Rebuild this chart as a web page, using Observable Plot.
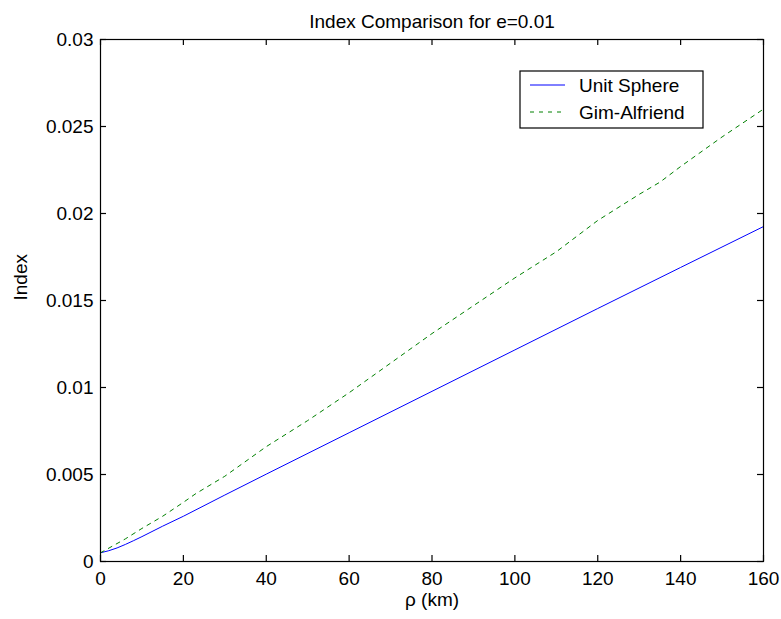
<!DOCTYPE html>
<html>
<head>
<meta charset="utf-8">
<script src="https://cdn.jsdelivr.net/npm/d3@7"></script>
<script src="https://cdn.jsdelivr.net/npm/@observablehq/plot@0.6"></script>
<style>
  html, body { margin: 0; padding: 0; background: #fff; }
  svg { font-family: "Liberation Sans", Arial, sans-serif; }
</style>
</head>
<body>
<div id="chart"></div>
<script>
const title = "Index Comparison for e=0.01";
const xLabel = "ρ (km)";
const yLabel = "Index";
const seriesNames = ["Unit Sphere", "Gim-Alfriend"];
const seriesColors = ["#0000ff", "#008000"];

const xTicks = [0, 20, 40, 60, 80, 100, 120, 140, 160];
const yTicks = [0, 0.005, 0.01, 0.015, 0.02, 0.025, 0.03];
const yTickLabels = ["0", "0.005", "0.01", "0.015", "0.02", "0.025", "0.03"];

const unitSphereX = [0, 2, 4, 6, 8, 10, 15, 20, 30, 40, 60, 80, 100, 120, 140, 160];
const unitSphereY = [0.0005, 0.00062, 0.00078, 0.00098, 0.0012, 0.00143, 0.00203, 0.0026, 0.00382, 0.00502, 0.0074, 0.00978, 0.01216, 0.01454, 0.0169, 0.01925];

const gimX = [0, 3, 6, 10, 15, 20, 23, 30, 40, 50, 60, 70, 80, 90, 100, 110, 115, 120, 130, 135, 140, 150, 160];
const gimY = [0.0005, 0.0009, 0.0013, 0.0019, 0.0026, 0.0034, 0.0039, 0.0049, 0.0066, 0.0081, 0.0097, 0.0114, 0.0131, 0.0147, 0.0163, 0.0178, 0.0187, 0.0196, 0.0211, 0.0218, 0.0227, 0.0244, 0.026];

const unitData = unitSphereX.map((x, i) => ({x, y: unitSphereY[i]}));
const gimData = gimX.map((x, i) => ({x, y: gimY[i]}));
const legendData = seriesNames.map((name, i) => ({name, i}));

const W = 781, H = 619, ML = 100, MR = 18, MT = 39, MB = 58;
const plotW = W - ML - MR, plotH = H - MT - MB;
const TICK = 6;
const FS = 19;

const chart = Plot.plot({
  width: W,
  height: H,
  marginLeft: ML,
  marginRight: MR,
  marginTop: MT,
  marginBottom: MB,
  style: {fontFamily: "'Liberation Sans', Arial, sans-serif", fontSize: FS + "px", color: "#000", background: "#fff"},
  x: {domain: [0, 160]},
  y: {domain: [0, 0.03]},
  marks: [
    Plot.line(unitData, {x: "x", y: "y", stroke: seriesColors[0], strokeWidth: 1}),
    Plot.line(gimData, {x: "x", y: "y", stroke: seriesColors[1], strokeWidth: 1, strokeDasharray: "4,5"}),
    // inward tick marks on all four sides
    Plot.tickX(xTicks, {x: d => d, insetTop: plotH - TICK, stroke: "#000", strokeWidth: 1.2}),
    Plot.tickX(xTicks, {x: d => d, insetBottom: plotH - TICK, stroke: "#000", strokeWidth: 1.2}),
    Plot.tickY(yTicks, {y: d => d, insetRight: plotW - TICK, stroke: "#000", strokeWidth: 1.2}),
    Plot.tickY(yTicks, {y: d => d, insetLeft: plotW - TICK, stroke: "#000", strokeWidth: 1.2}),
    Plot.frame({stroke: "#000", strokeWidth: 1.2}),
    Plot.axisX(xTicks, {anchor: "bottom", tickSize: 0, tickPadding: 10, fontSize: FS, label: null}),
    Plot.axisY(yTicks, {anchor: "left", tickSize: 0, tickPadding: 7, fontSize: FS, tickFormat: d => yTickLabels[yTicks.indexOf(d)], label: null}),
    Plot.text([title], {frameAnchor: "top", dy: -25, fontSize: FS}),
    Plot.text([xLabel], {frameAnchor: "bottom", dy: 44, fontSize: FS}),
    Plot.text([yLabel], {frameAnchor: "left", dx: -80, rotate: -90, fontSize: FS})
  ]
});

document.getElementById("chart").appendChild(chart);

// Legend box
const svg = d3.select(chart);
const lg = svg.append("g").attr("transform", "translate(520,71)");
lg.append("rect").attr("width", 183).attr("height", 57).attr("fill", "#fff").attr("stroke", "#000").attr("stroke-width", 1.2);
legendData.forEach((d) => {
  const yy = 14 + d.i * 27;
  lg.append("line").attr("x1", 10).attr("x2", 45).attr("y1", yy).attr("y2", yy)
    .attr("stroke", seriesColors[d.i]).attr("stroke-width", 1)
    .attr("stroke-dasharray", d.i === 1 ? "4,5" : null);
  lg.append("text").attr("x", 59).attr("y", yy).attr("dy", "0.35em")
    .attr("text-anchor", "start")
    .attr("font-size", FS).attr("fill", "#000").text(d.name);
});
</script>
</body>
</html>
